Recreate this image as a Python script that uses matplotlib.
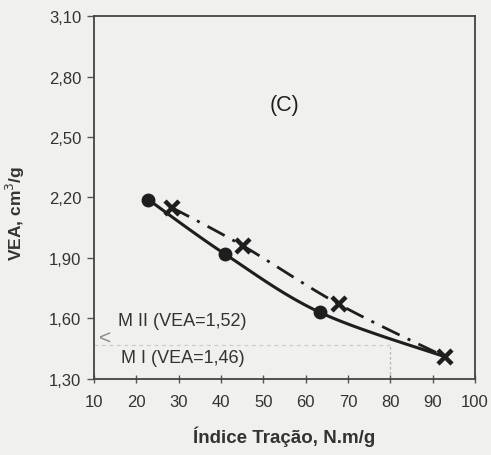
import numpy as np
import matplotlib
matplotlib.use("Agg")
import matplotlib.pyplot as plt

# ----- data -----
x_m1 = [22.8, 40.9, 63.4, 92.9]
y_m1 = [2.19, 1.92, 1.63, 1.41]
x_m2 = [28.4, 45.2, 67.9, 92.9]
y_m2 = [2.15, 1.96, 1.67, 1.41]

x_ticks = [10, 20, 30, 40, 50, 60, 70, 80, 90, 100]
y_ticks = [1.30, 1.60, 1.90, 2.20, 2.50, 2.80, 3.10]
y_tick_labels = ["1,30", "1,60", "1,90", "2,20", "2,50", "2,80", "3,10"]

label_m2 = "M II (VEA=1,52)"
label_m1 = "M I (VEA=1,46)"
ref_x = 80
ref_y = 1.47

BG = "#f0f0ee"
INK = "#1e1e1e"
TXT = "#333333"

plt.rcParams["font.family"] = ["Liberation Sans", "DejaVu Sans"]


def smooth(xs, ys, n=40):
    """Excel-like smoothed line: cubic Bezier through the points."""
    p = np.column_stack([xs, ys]).astype(float)
    p_ext = np.vstack([p[0], p, p[-1]])
    out = []
    t = np.linspace(0, 1, n)[:, None]
    for i in range(len(p) - 1):
        p0 = p_ext[i + 1]
        p3 = p_ext[i + 2]
        c1 = p0 + (p_ext[i + 2] - p_ext[i]) / 6.0
        c2 = p3 - (p_ext[i + 3] - p_ext[i + 1]) / 6.0
        seg = ((1 - t) ** 3) * p0 + 3 * ((1 - t) ** 2) * t * c1 + 3 * (1 - t) * t ** 2 * c2 + t ** 3 * p3
        out.append(seg if i == 0 else seg[1:])
    out = np.vstack(out)
    return out[:, 0], out[:, 1]


fig = plt.figure(figsize=(4.91, 4.56), dpi=100, facecolor=BG)
ax = fig.add_axes([0.1914, 0.1667, 0.7760, 0.7960])
ax.set_facecolor(BG)

ax.set_xlim(10, 100)
ax.set_ylim(1.30, 3.10)

# faint reference lines (as in the scan)
ax.plot([10, ref_x], [ref_y, ref_y], color="#cdcdcb", lw=0.9, ls=(0, (3, 3)), zorder=1)
ax.plot([ref_x, ref_x], [1.30, ref_y], color="#b4b4b2", lw=0.9, ls=(0, (2, 2)), zorder=1)

# M I: solid smoothed line with filled circles
sx, sy = smooth(x_m1, y_m1)
ax.plot(sx, sy, color=INK, lw=2.2, solid_capstyle="round", zorder=3)
ax.plot(x_m1[:3], y_m1[:3], ls="none", marker="o", ms=9, color=INK, zorder=4)

# M II: dash-dot smoothed line with X markers
sx2, sy2 = smooth(x_m2, y_m2)
ln, = ax.plot(sx2, sy2, color=INK, lw=2.0, zorder=3)
ln.set_dashes([7, 3.2, 1.1, 3.2])
ax.plot(x_m2, y_m2, ls="none", marker="x", ms=9.5, mew=3.2, color=INK, zorder=5)

# annotations
ax.text(55.1, 2.66, "(C)", fontsize=15.5, color=INK, ha="center", va="center")
ax.text(15.6, 1.59, label_m2, fontsize=13, color=TXT, ha="left", va="center")
ax.text(16.3, 1.405, label_m1, fontsize=13, color=TXT, ha="left", va="center")
ax.text(11.2, 1.505, "<", fontsize=15, color="#8a8a8a", ha="left", va="center")

# axes styling
for s in ax.spines.values():
    s.set_color("#444444")
    s.set_linewidth(1.3)

ax.set_xticks(x_ticks)
ax.set_xticklabels([str(v) for v in x_ticks])
ax.set_yticks(y_ticks)
ax.set_yticklabels(y_tick_labels)
ax.tick_params(axis="x", direction="inout", length=6, width=1.0, color="#555555",
               labelsize=12, labelcolor=TXT, pad=8)
ax.tick_params(axis="y", direction="out", length=5, width=1.0, color="#555555",
               labelsize=12, labelcolor=TXT, pad=4)

ax.set_xlabel("Índice Tração, N.m/g", fontsize=13.5, fontweight="bold", color=TXT, labelpad=12)
ax.set_ylabel("VEA, cm$^3$/g", fontsize=12.5, fontweight="bold", color=TXT)
ax.yaxis.set_label_coords(-0.175, 0.46)

fig.savefig("out.png", dpi=100, facecolor=BG)
